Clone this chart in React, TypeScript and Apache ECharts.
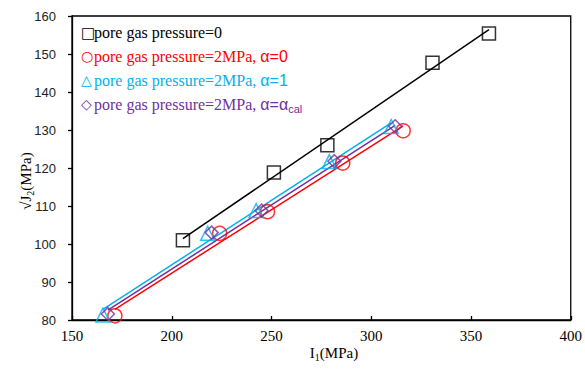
import React, { useEffect, useRef } from "react";
import * as echarts from "echarts";

const xTickMin = 150;
const xTickMax = 400;
const xTickStep = 50;
const yTickMin = 80;
const yTickMax = 160;
const yTickStep = 10;

// pore gas pressure = 0 (squares)
const blackI1 = [205.6, 251.2, 278, 330.7, 359];
const blackJ2 = [101, 118.8, 126, 147.7, 155.4];
// 2 MPa, alpha = 0 (circles)
const redI1 = [171.5, 224, 248, 285.7, 316];
const redJ2 = [81.1, 102.8, 108.5, 121.3, 129.8];
// 2 MPa, alpha = 1 (triangles)
const cyanI1 = [165.5, 218, 242.3, 279, 310];
const cyanJ2 = [81.3, 102.8, 108.8, 121.7, 130.9];
// 2 MPa, alpha = alpha_cal (diamonds)
const purpleI1 = [168, 220, 245, 281.5, 312];
const purpleJ2 = [81.6, 103, 108.8, 121.8, 131];

// trend line end points
const blackFit = [[205.6, 101.4], [359, 156.4]];
const redFit = [[171.5, 82.8], [316, 131.1]];
const cyanFit = [[165.5, 82.8], [310, 131.9]];
const purpleFit = [[168, 82.6], [312, 131.2]];

const BLACK = "#000000";
const RED = "#FF0000";
const CYAN = "#00B0F0";
const PURPLE = "#7030A0";

const SERIF = "serif";
const SANS = "Liberation Sans";
const SYM = "DejaVu Sans";

const zip = (xs: number[], ys: number[]) => xs.map((x, i) => [x, ys[i]]);

export default function App() {
  const ref = useRef<HTMLDivElement>(null);
  useEffect(() => {
    if (!ref.current) return;
    const chart = echarts.init(ref.current, null, { renderer: "svg" });

    const scatter = (name: string, data: number[][], symbol: string, size: number, color: string) => ({
      name,
      type: "scatter",
      data,
      symbol,
      symbolSize: size,
      itemStyle: { color: "rgba(255,255,255,0)", borderColor: color, borderWidth: 1.5 },
      z: 3,
    });
    const line = (data: number[][], color: string) => ({
      type: "line",
      data,
      showSymbol: false,
      symbol: "none",
      lineStyle: { color, width: 1.5 },
      z: 2,
    });

    const legendRow = (y: number, sym: string, symSize: number, text: string, color: string) => [
      {
        type: "text",
        x: 81,
        y,
        style: { text: sym, fill: color, fontFamily: SYM, fontSize: symSize, verticalAlign: "middle", align: "left" },
      },
      {
        type: "text",
        x: 94,
        y,
        style: {
          text,
          fill: color,
          fontFamily: SERIF,
          fontSize: 16,
          verticalAlign: "middle",
          align: "left",
          rich: {
            s: { fontFamily: SERIF, fontSize: 16, fill: color },
            a: { fontFamily: SANS, fontSize: 16, fill: color },
            sub: { fontFamily: SANS, fontSize: 11, fill: color, padding: [10, 0, 0, 0] },
          },
        },
      },
    ];

    chart.setOption({
      animation: false,
      textStyle: { fontFamily: SERIF },
      grid: {
        left: 72,
        right: 14,
        top: 16,
        bottom: 52,
        show: true,
        borderColor: "#000",
        borderWidth: 1.3,
        backgroundColor: "transparent",
      },
      xAxis: {
        type: "value",
        min: xTickMin,
        max: xTickMax,
        interval: xTickStep,
        axisLine: { show: true, lineStyle: { color: "#000", width: 1.3 } },
        axisTick: { show: true, inside: true, length: 4, lineStyle: { color: "#000", width: 1.3 } },
        axisLabel: { color: "#000", fontFamily: SERIF, fontSize: 15, margin: 8 },
        splitLine: { show: false },
      },
      yAxis: {
        type: "value",
        min: yTickMin,
        max: yTickMax,
        interval: yTickStep,
        axisLine: { show: true, lineStyle: { color: "#000", width: 1.3 } },
        axisTick: { show: true, inside: false, length: 4, lineStyle: { color: "#000", width: 1.3 } },
        axisLabel: { color: "#222", fontFamily: SANS, fontSize: 13, margin: 16 },
        splitLine: { show: false },
      },
      series: [
        line(blackFit, BLACK),
        line(redFit, RED),
        line(purpleFit, PURPLE),
        line(cyanFit, CYAN),
        scatter("pore gas pressure=0", zip(blackI1, blackJ2), "rect", 13, BLACK),
        scatter("alpha=0", zip(redI1, redJ2), "circle", 14, RED),
        scatter("alpha=1", zip(cyanI1, cyanJ2), "triangle", 14, CYAN),
        scatter("alpha=cal", zip(purpleI1, purpleJ2), "diamond", 13, PURPLE),
      ],
      graphic: [
        ...legendRow(32.5, "□", 15, "{s|pore gas pressure=0}", BLACK),
        ...legendRow(56, "○", 14, "{s|pore gas pressure=2MPa, }{a|α=0}", RED),
        ...legendRow(80, "△", 14, "{s|pore gas pressure=2MPa, }{a|α=1}", CYAN),
        ...legendRow(104, "◇", 14, "{s|pore gas pressure=2MPa, }{a|α=α}{sub|cal}", PURPLE),
        {
          type: "text",
          x: 334,
          y: 353,
          style: {
            text: "{s|I}{sub|1}{s|(MPa)}",
            fontFamily: SERIF,
            fontSize: 15,
            align: "center",
            verticalAlign: "middle",
            rich: {
              s: { fontFamily: SERIF, fontSize: 15, fill: "#000" },
              sub: { fontFamily: SERIF, fontSize: 10, fill: "#000", padding: [9, 0, 0, 0] },
            },
          },
        },
        {
          type: "text",
          x: 26,
          y: 181,
          rotation: Math.PI / 2,
          style: {
            text: "{s|√J}{sub|2}{s|(MPa)}",
            fontFamily: SERIF,
            fontSize: 15,
            align: "center",
            verticalAlign: "middle",
            rich: {
              s: { fontFamily: SERIF, fontSize: 15, fill: "#000" },
              sub: { fontFamily: SERIF, fontSize: 10, fill: "#000", padding: [9, 0, 0, 0] },
            },
          },
        },
      ],
    });
    return () => chart.dispose();
  }, []);
  return <div ref={ref} style={{ width: 585, height: 372, position: "absolute", left: 0, top: 0 }} />;
}
